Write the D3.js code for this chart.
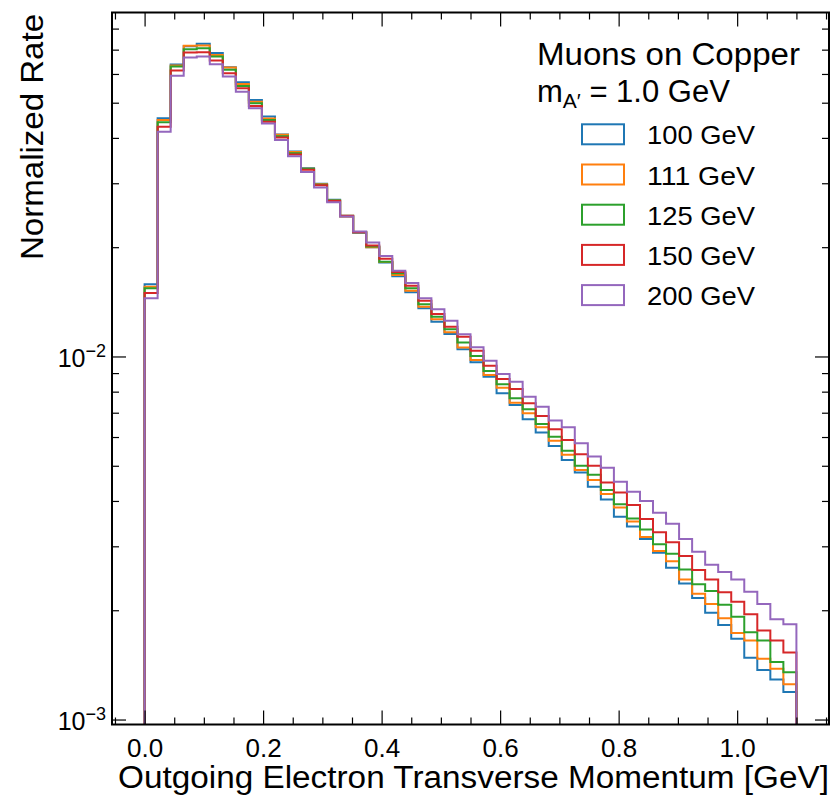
<!DOCTYPE html>
<html><head><meta charset="utf-8">
<script src="https://cdn.jsdelivr.net/npm/d3@7"></script>
<style>
body{margin:0;background:#fff}
svg{display:block}
text{font-family:"Liberation Sans",Arial,Helvetica,sans-serif;fill:#000}
</style>
</head><body>
<svg id="chart" width="832" height="796"></svg>
<script>
// ---------------- data ----------------
const binEdges = [0.000,0.022,0.044,0.066,0.088,0.110,0.132,0.154,0.176,0.198,
  0.220,0.242,0.264,0.286,0.308,0.330,0.352,0.374,0.396,0.418,
  0.440,0.462,0.484,0.506,0.528,0.550,0.572,0.594,0.616,0.638,
  0.660,0.682,0.704,0.726,0.748,0.770,0.792,0.814,0.836,0.858,
  0.880,0.902,0.924,0.946,0.968,0.990,1.012,1.034,1.056,1.078,1.100];

const seriesLabels = ["100 GeV","111 GeV","125 GeV","150 GeV","200 GeV"];
const seriesColors = ["#1f77b4","#ff7f0e","#2ca02c","#d62728","#9467bd"];

const rate100 = [0.01581,0.0453,0.0637,0.0715,0.0727,0.0685,0.0626,0.0569,0.0509,0.0458,
  0.0409,0.0367,0.0330,0.0299,0.0270,0.0243,0.0219,0.0200,0.01815,0.01663,
  0.01503,0.01358,0.01247,0.01153,0.01047,0.00964,0.00880,0.00792,0.00735,0.00672,
  0.00617,0.00567,0.00519,0.00479,0.00438,0.00404,0.00362,0.00340,0.00314,0.00288,
  0.00262,0.00237,0.00216,0.00197,0.00182,0.00167,0.00148,0.00137,0.00129,0.00119];
const rate111 = [0.01557,0.0448,0.0633,0.0717,0.0719,0.0677,0.0625,0.0563,0.0503,0.0452,
  0.0408,0.0366,0.0329,0.0298,0.0269,0.0243,0.0220,0.0200,0.01821,0.01677,
  0.01518,0.01371,0.01266,0.01166,0.01058,0.00978,0.00889,0.00820,0.00746,0.00698,
  0.00638,0.00586,0.00536,0.00487,0.00457,0.00418,0.00384,0.00351,0.00318,0.00291,
  0.00273,0.00243,0.00222,0.00208,0.00190,0.00173,0.00165,0.00147,0.00138,0.00125];
const rate125 = [0.01541,0.0442,0.0629,0.0702,0.0706,0.0670,0.0616,0.0556,0.0498,0.0448,
  0.0404,0.0363,0.0329,0.0297,0.0269,0.0244,0.0220,0.0201,0.01824,0.01695,
  0.01541,0.01392,0.01287,0.01188,0.01092,0.01003,0.00912,0.00838,0.00767,0.00716,
  0.00652,0.00601,0.00550,0.00500,0.00472,0.00429,0.00392,0.00358,0.00334,0.00304,
  0.00286,0.00259,0.00236,0.00226,0.00207,0.00192,0.00174,0.00165,0.00144,0.00135];
const rate150 = [0.01496,0.0429,0.0613,0.0687,0.0689,0.0653,0.0603,0.0548,0.0490,0.0443,
  0.0401,0.0360,0.0327,0.0296,0.0268,0.0244,0.0220,0.0202,0.01859,0.01709,
  0.01567,0.01424,0.01309,0.01208,0.01134,0.01037,0.00943,0.00867,0.00814,0.00743,
  0.00686,0.00630,0.00589,0.00538,0.00500,0.00450,0.00422,0.00390,0.00357,0.00328,
  0.00308,0.00282,0.00258,0.00243,0.00224,0.00211,0.00195,0.00176,0.00165,0.00153];
const rate200 = [0.01447,0.0416,0.0593,0.0666,0.0670,0.0638,0.0590,0.0536,0.0483,0.0438,
  0.0395,0.0356,0.0322,0.0292,0.0266,0.0243,0.0221,0.0206,0.01891,0.01723,
  0.01594,0.01447,0.01349,0.01255,0.01151,0.01060,0.00974,0.00895,0.00852,0.00774,
  0.00727,0.00666,0.00638,0.00577,0.00530,0.00494,0.00452,0.00424,0.00400,0.00371,
  0.00346,0.00314,0.00290,0.00267,0.00255,0.00243,0.00225,0.00208,0.00189,0.00183];

const xMajorTicks = [0.0,0.2,0.4,0.6,0.8,1.0];
const xMinorTicks = [-0.05,0.05,0.10,0.15,0.25,0.30,0.35,0.45,0.50,0.55,0.65,0.70,0.75,0.85,0.90,0.95,1.05,1.10,1.15];
const yMajorTicks = [0.001,0.01];
const yMajorExponents = ["\u22123","\u22122"];
const yMinorTicks = [0.002,0.003,0.004,0.005,0.006,0.007,0.008,0.009,0.02,0.03,0.04,0.05,0.06,0.07,0.08];

const xTitle = "Outgoing Electron Transverse Momentum [GeV]";
const yTitle = "Normalized Rate";
const legendTitle = "Muons on Copper";

// ---------------- layout ----------------
const L = 112, R = 829, T = 12.5, B = 724.5;
const x = d3.scaleLinear().domain([-0.055, 1.155]).range([L, R]);
const y = d3.scaleLog().domain([0.000969, 0.0886]).range([B, T]);

const svg = d3.select("#chart");
svg.append("defs").append("clipPath").attr("id","clip")
  .append("rect").attr("x",L).attr("y",T).attr("width",R-L).attr("height",B-T);

// ---------------- histograms ----------------
const allSeries = [rate100, rate111, rate125, rate150, rate200];
const line = d3.line().x(d => x(d[0])).y(d => d[1] === null ? B + 5 : y(d[1]));
const gPlot = svg.append("g").attr("clip-path","url(#clip)");
allSeries.forEach((vals, si) => {
  const pts = [[binEdges[0], null]];
  vals.forEach((v, i) => { pts.push([binEdges[i], v]); pts.push([binEdges[i+1], v]); });
  pts.push([binEdges[binEdges.length-1], null]);
  gPlot.append("path").datum(pts).attr("d", line)
    .attr("fill","none").attr("stroke", seriesColors[si]).attr("stroke-width", 2)
    .attr("stroke-linejoin","miter");
});

// ---------------- axes ----------------
function styleAxis(g){
  g.select(".domain").remove();
  g.selectAll(".tick line").attr("stroke","#000").attr("stroke-width",1.2);
}
svg.append("g").attr("transform",`translate(0,${B})`)
  .call(d3.axisBottom(x).tickValues(xMajorTicks).tickSizeInner(-14).tickSizeOuter(0).tickFormat(d3.format(".1f")))
  .call(styleAxis)
  .call(g => g.selectAll("text").attr("y", 32).attr("dy", 0)
      .attr("font-family","Liberation Sans, Arial, sans-serif").attr("font-size", 26).attr("fill","#000"));
svg.append("g").attr("transform",`translate(0,${B})`)
  .call(d3.axisBottom(x).tickValues(xMinorTicks).tickSizeInner(-7).tickSizeOuter(0).tickFormat(""))
  .call(styleAxis);
svg.append("g").attr("transform",`translate(0,${T})`)
  .call(d3.axisTop(x).tickValues(xMajorTicks).tickSizeInner(-14).tickSizeOuter(0).tickFormat(""))
  .call(styleAxis);
svg.append("g").attr("transform",`translate(0,${T})`)
  .call(d3.axisTop(x).tickValues(xMinorTicks).tickSizeInner(-7).tickSizeOuter(0).tickFormat(""))
  .call(styleAxis);

const leftMaj = svg.append("g").attr("transform",`translate(${L},0)`)
  .call(d3.axisLeft(y).tickValues(yMajorTicks).tickSizeInner(-14).tickSizeOuter(0).tickFormat(""))
  .call(styleAxis);
svg.append("g").attr("transform",`translate(${L},0)`)
  .call(d3.axisLeft(y).tickValues(yMinorTicks).tickSizeInner(-7).tickSizeOuter(0).tickFormat(""))
  .call(styleAxis);
svg.append("g").attr("transform",`translate(${R},0)`)
  .call(d3.axisRight(y).tickValues(yMajorTicks).tickSizeInner(-14).tickSizeOuter(0).tickFormat(""))
  .call(styleAxis);
svg.append("g").attr("transform",`translate(${R},0)`)
  .call(d3.axisRight(y).tickValues(yMinorTicks).tickSizeInner(-7).tickSizeOuter(0).tickFormat(""))
  .call(styleAxis);

// y tick labels 10^n
yMajorTicks.forEach((v, i) => {
  const t = svg.append("text").attr("x", 106).attr("y", y(v) + 10.5)
    .attr("text-anchor","end").attr("font-size", 25);
  t.append("tspan").text("10");
  t.append("tspan").attr("dy", -10).attr("font-size", 18).text(yMajorExponents[i]);
});

// frame
svg.append("rect").attr("x",L).attr("y",T).attr("width",R-L).attr("height",B-T)
  .attr("fill","none").attr("stroke","#000").attr("stroke-width",2);

// axis titles
svg.append("text").attr("x", R).attr("y", 788).attr("text-anchor","end")
  .attr("font-size", 31).attr("textLength", 711).attr("lengthAdjust","spacingAndGlyphs").text(xTitle);
svg.append("text").attr("transform", `translate(43,${T+1.5}) rotate(-90)`).attr("text-anchor","end")
  .attr("font-size", 31).attr("textLength", 246).attr("lengthAdjust","spacingAndGlyphs").text(yTitle);

// legend
svg.append("text").attr("x", 537).attr("y", 65).attr("font-size", 31)
  .attr("textLength", 263).attr("lengthAdjust","spacingAndGlyphs").text(legendTitle);
const mline = svg.append("text").attr("x", 537).attr("y", 101.5).attr("font-size", 31);
mline.append("tspan").text("m");
mline.append("tspan").attr("dy", 6).attr("font-size", 21).text("A\u2032");
mline.append("tspan").attr("dy", -6).text(" = 1.0 GeV");

const legRow0 = 134.3, legStep = 40.2;
seriesLabels.forEach((lab, i) => {
  const cy = legRow0 + i * legStep;
  svg.append("rect").attr("x", 582).attr("y", cy - 10).attr("width", 42).attr("height", 20)
    .attr("fill","none").attr("stroke", seriesColors[i]).attr("stroke-width", 2);
  svg.append("text").attr("x", 647).attr("y", cy + 10).attr("font-size", 26)
    .attr("textLength", 108).attr("lengthAdjust","spacingAndGlyphs").text(lab);
});
</script>
</body></html>
